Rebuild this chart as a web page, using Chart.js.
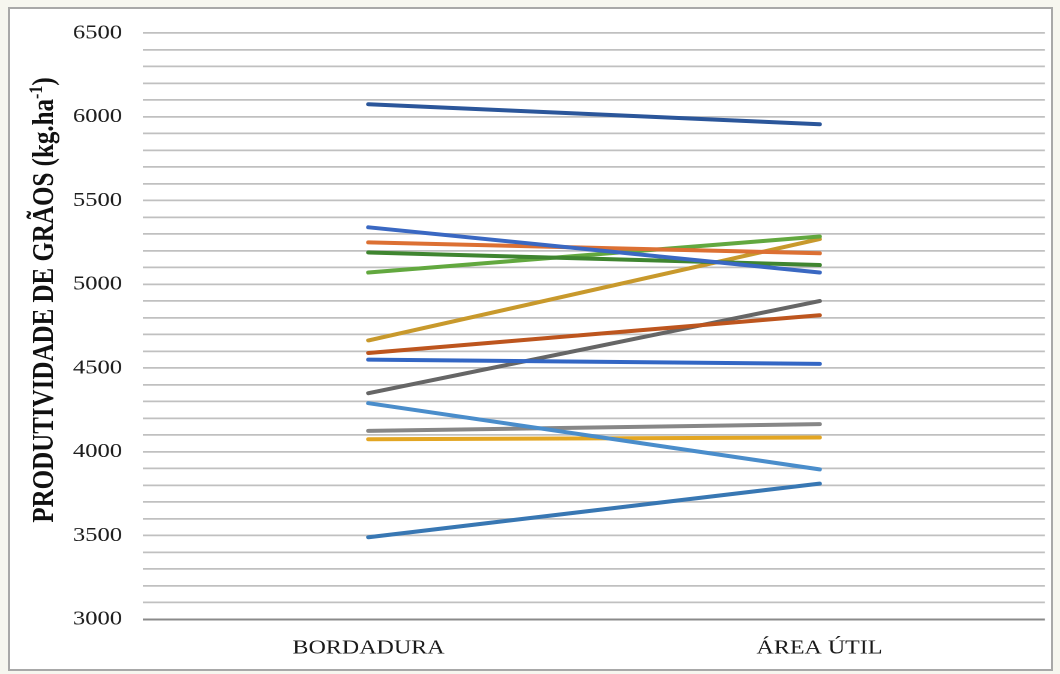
<!DOCTYPE html>
<html>
<head>
<meta charset="utf-8">
<script src="https://cdn.jsdelivr.net/npm/chart.js@4/dist/chart.umd.min.js"></script>
<style>
  html, body { margin: 0; padding: 0; }
  body { width: 1060px; height: 674px; background: #f6f6ef; position: relative; overflow: hidden; }
  #frame { position: absolute; left: 8px; top: 7px; width: 1041px; height: 660px;
           border: 2px solid #a8a8a8; background: #ffffff; }
  /* the chart is laid out narrow and widened horizontally, giving the broad serif lettering */
  #wrap { position: absolute; left: 0; top: 0; width: 883.33px; height: 674px;
          transform: scaleX(1.2); transform-origin: 0 0; }
</style>
</head>
<body>
<div id="frame"></div>
<div id="wrap"><canvas id="c"></canvas></div>
<script>
// Categories on the x axis
const categories = ['BORDADURA', 'ÁREA ÚTIL'];

// Grain yield (kg/ha) of each treatment in the border rows and in the useful area
const bordadura = [6075, 5340, 5250, 5190, 5070, 4665, 4590, 4550, 4350, 4290, 4125, 4075, 3490];
const areaUtil  = [5955, 5070, 5185, 5115, 5285, 5270, 4815, 4525, 4900, 3895, 4165, 4085, 3810];

// One colour per treatment line
const lineColors = ['#2B569A', '#3A68C2', '#DC7033', '#3F8530', '#62A83F', '#C8992C',
                    '#BD551E', '#3366C4', '#666666', '#4A8DCB', '#878787', '#E3A623', '#3877B3'];

// Y axis range, grid spacing and labelled interval
const yMin = 3000, yMax = 6500, yGridStep = 100, yLabelStep = 500;

const yTitleMain = 'PRODUTIVIDADE DE GRÃOS (kg.ha';
const yTitleSup = '-1';
const yTitleEnd = ')';

const serif = '"Liberation Serif", "Times New Roman", serif';

const datasets = bordadura.map((v, i) => ({
  label: 'T' + (i + 1),
  data: [v, areaUtil[i]],
  borderColor: lineColors[i],
  backgroundColor: lineColors[i],
  borderWidth: 4,
  borderCapStyle: 'round',
  pointRadius: 0,
  tension: 0,
  fill: false
}));

// Rotated y axis title with a raised "-1"
const yTitlePlugin = {
  id: 'yTitle',
  afterDraw(chart) {
    const ctx = chart.ctx;
    ctx.save();
    ctx.translate(36, 300);
    ctx.rotate(-Math.PI / 2);
    ctx.fillStyle = '#111111';
    ctx.textBaseline = 'alphabetic';
    ctx.textAlign = 'left';
    const mainFont = 'bold 25px ' + serif;
    const supFont = 'bold 16px ' + serif;
    ctx.font = mainFont;
    const w1 = ctx.measureText(yTitleMain).width;
    const w3 = ctx.measureText(yTitleEnd).width;
    ctx.font = supFont;
    const w2 = ctx.measureText(yTitleSup).width;
    let x = -(w1 + w2 + w3) / 2;
    const base = 8;
    ctx.font = mainFont;
    ctx.fillText(yTitleMain, x, base);
    x += w1;
    ctx.font = supFont;
    ctx.fillText(yTitleSup, x, base - 9);
    x += w2;
    ctx.font = mainFont;
    ctx.fillText(yTitleEnd, x, base);
    ctx.restore();
  }
};

new Chart(document.getElementById('c'), {
  type: 'line',
  data: { labels: categories, datasets },
  plugins: [yTitlePlugin],
  options: {
    responsive: true,
    maintainAspectRatio: false,
    animation: false,
    devicePixelRatio: 2,
    layout: { padding: { top: 33, right: 12.5, bottom: 0, left: 0 } },
    plugins: { legend: { display: false }, tooltip: { enabled: false } },
    scales: {
      x: {
        offset: true,
        border: { display: false },
        grid: { display: false, drawTicks: false },
        ticks: { padding: 17, color: '#1a1a1a', font: { family: serif, size: 20 } },
        afterFit(scale) { scale.height = 54.7; }
      },
      y: {
        min: yMin,
        max: yMax,
        border: { display: false },
        grid: {
          drawTicks: false,
          color: c => (c.tick && c.tick.value === yMin) ? '#8a8a8a' : '#c0c0c0',
          lineWidth: c => (c.tick && c.tick.value === yMin) ? 2 : 1.8
        },
        ticks: {
          stepSize: yGridStep,
          maxTicksLimit: 100,
          autoSkip: false,
          padding: 17.5,
          color: '#1e1e1e',
          font: { family: serif, size: 20.5 },
          callback: v => (v % yLabelStep === 0 ? String(v) : '')
        },
        afterFit(scale) { scale.width = 119.2; }
      }
    }
  }
});
</script>
</body>
</html>
